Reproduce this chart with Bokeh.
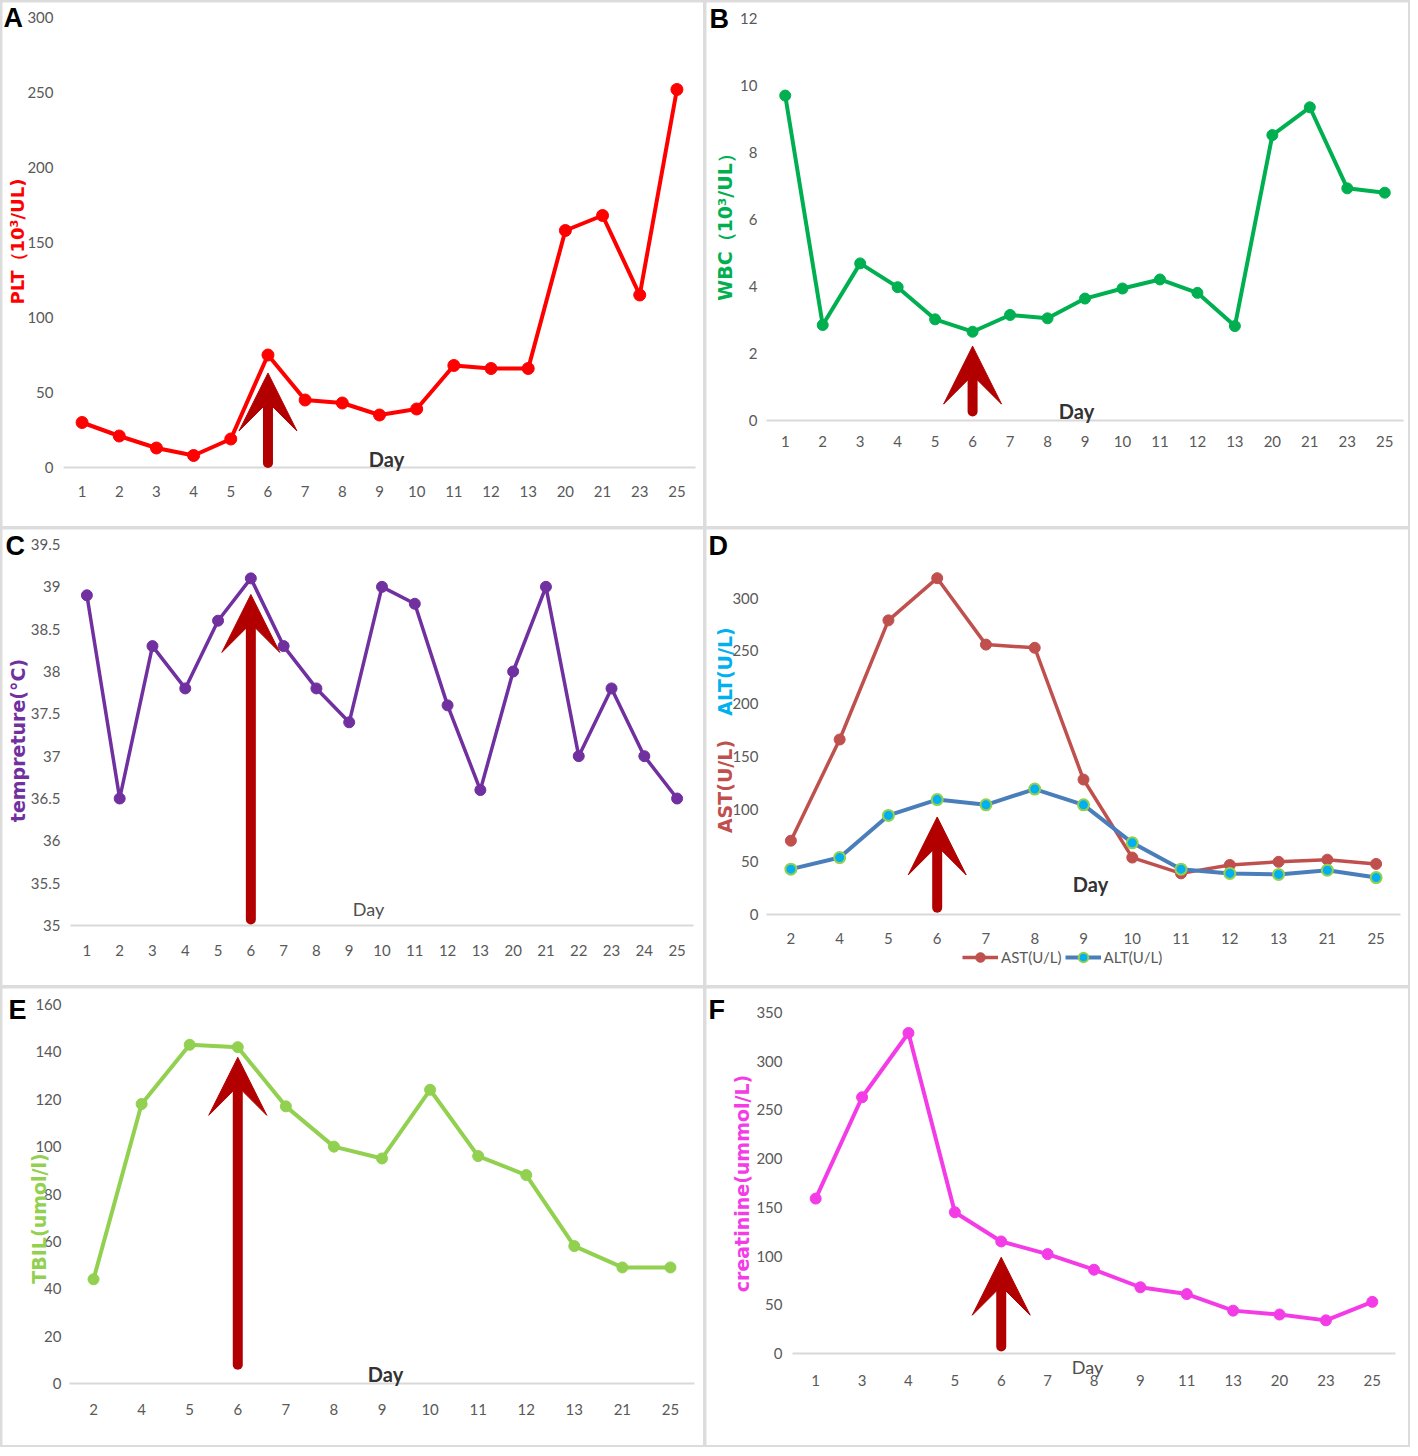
import math
from bokeh.plotting import figure
from bokeh.models import (Range1d, FixedTicker, Label, Arrow, VeeHead,
                          Legend, LegendItem, NumeralTickFormatter)
from bokeh.layouts import column, row
from bokeh.embed import file_html
from bokeh.resources import INLINE

# ---------------- data ----------------
a_days = ["1", "2", "3", "4", "5", "6", "7", "8", "9", "10", "11", "12", "13", "20", "21", "23", "25"]
a_plt = [30, 21, 13, 8, 19, 75, 45, 43, 35, 39, 68, 66, 66, 158, 168, 115, 252]
a_yticks = [0, 50, 100, 150, 200, 250, 300]

b_days = ["1", "2", "3", "4", "5", "6", "7", "8", "9", "10", "11", "12", "13", "20", "21", "23", "25"]
b_wbc = [9.7, 2.85, 4.69, 3.98, 3.02, 2.65, 3.15, 3.05, 3.64, 3.94, 4.21, 3.81, 2.82, 8.52, 9.35, 6.93, 6.80]
b_yticks = [0, 2, 4, 6, 8, 10, 12]

c_days = ["1", "2", "3", "4", "5", "6", "7", "8", "9", "10", "11", "12", "13", "20", "21", "22", "23", "24", "25"]
c_temp = [38.9, 36.5, 38.3, 37.8, 38.6, 39.1, 38.3, 37.8, 37.4, 39.0, 38.8, 37.6, 36.6, 38.0, 39.0, 37.0, 37.8, 37.0, 36.5]
c_yticks = [35, 35.5, 36, 36.5, 37, 37.5, 38, 38.5, 39, 39.5]

d_days = ["2", "4", "5", "6", "7", "8", "9", "10", "11", "12", "13", "21", "25"]
d_ast = [70, 166, 279, 319, 256, 253, 128, 54, 39, 47, 50, 52, 48]
d_alt = [43, 54, 94, 109, 104, 119, 104, 68, 43, 39, 38, 42, 35]
d_yticks = [0, 50, 100, 150, 200, 250, 300]

e_days = ["2", "4", "5", "6", "7", "8", "9", "10", "11", "12", "13", "21", "25"]
e_tbil = [44, 118, 143, 142, 117, 100, 95, 124, 96, 88, 58, 49, 49]
e_yticks = [0, 20, 40, 60, 80, 100, 120, 140, 160]

f_days = ["1", "3", "4", "5", "6", "7", "8", "9", "11", "13", "20", "23", "25"]
f_crea = [159, 263, 329, 145, 115, 102, 86, 68, 61, 44, 40, 34, 53]
f_yticks = [0, 50, 100, 150, 200, 250, 300, 350]

# ---------------- styles ----------------
TICK_FONT = "Lato"
LABEL_FONT = "DejaVu Sans"
TICK_COLOR = "#595959"
ARROW_COLOR = "#b20000"
GAP_COLOR = "#dcdcdc"


def make_panel(width, height, days, y0, y1, yticks, left, right, top, bottom, ystandoff=10, xstandoff=17):
    """Whole canvas is the plot frame; axes are pinned inside it."""
    n = len(days)
    cw = (width - left - right) / n
    k = (y1 - y0) / (height - top - bottom)
    xr = Range1d(-left / cw - 0.5, (width - left) / cw - 0.5)
    yr = Range1d(y0 - bottom * k, y1 + top * k)
    p = figure(width=width, height=height, x_range=xr, y_range=yr,
               output_backend="svg", toolbar_location=None, min_border=0,
               background_fill_color="white", border_fill_color="white")
    try:
        p.frame_align = False
    except Exception:
        pass
    p.outline_line_color = None
    p.xgrid.visible = False
    p.ygrid.visible = False
    # y axis pinned at the left edge of the category area
    p.yaxis.fixed_location = -0.5
    p.yaxis.ticker = FixedTicker(ticks=yticks)
    p.yaxis.axis_line_color = None
    p.yaxis.major_tick_line_color = None
    p.yaxis.minor_tick_line_color = None
    p.yaxis.major_tick_out = 0
    p.yaxis.major_tick_in = 0
    p.yaxis.major_label_text_font = TICK_FONT
    p.yaxis.major_label_text_font_size = "15px"
    p.yaxis.major_label_text_color = TICK_COLOR
    p.yaxis.major_label_standoff = ystandoff
    # x axis pinned at the bottom value, labelled with the day categories
    p.xaxis.fixed_location = y0
    p.xaxis.bounds = (-0.5, n - 0.5)
    p.xaxis.ticker = FixedTicker(ticks=list(range(n)))
    p.xaxis.major_label_overrides = {i: d for i, d in enumerate(days)}
    p.xaxis.axis_line_color = "#d9d9d9"
    p.xaxis.axis_line_width = 2
    p.xaxis.major_tick_line_color = None
    p.xaxis.minor_tick_line_color = None
    p.xaxis.major_tick_out = 0
    p.xaxis.major_tick_in = 0
    p.xaxis.major_label_text_font = TICK_FONT
    p.xaxis.major_label_text_font_size = "15px"
    p.xaxis.major_label_text_color = TICK_COLOR
    p.xaxis.major_label_standoff = xstandoff
    geom = dict(L=left, T=top, cw=cw, k=k, y1=y1, days=days, idx=list(range(n)))
    return p, geom


def to_data(g, px, py):
    return (px - g["L"]) / g["cw"] - 0.5, g["y1"] - (py - g["T"]) * g["k"]


def add_letter(p, g, letter, px, py):
    x, y = to_data(g, px, py)
    p.add_layout(Label(x=x, y=y, text=letter, text_font="Liberation Sans", text_font_style="bold",
                       text_font_size="27px", text_color="black",
                       text_align="left", text_baseline="middle"))


def add_ylabel(p, g, text, px, py, color, size="18px"):
    x, y = to_data(g, px, py)
    p.add_layout(Label(x=x, y=y, text=text, angle=math.pi / 2, text_font=LABEL_FONT,
                       text_font_style="bold", text_font_size=size, text_color=color,
                       text_align="center", text_baseline="middle"))


def add_day(p, g, px, py, bold=True):
    x, y = to_data(g, px, py)
    p.add_layout(Label(x=x, y=y, text="Day", text_font=TICK_FONT,
                       text_font_style="bold" if bold else "normal",
                       text_font_size="20px" if bold else "18px",
                       text_color="#333333" if bold else "#505050",
                       text_align="center", text_baseline="middle"))


def add_arrow(p, g, day, y_start, y_end):
    xi = g["days"].index(day)
    k = g["k"]
    # shaft (rounded bottom), ending under the arrow head
    p.add_layout(Arrow(end=None, x_start=xi, y_start=y_start, x_end=xi, y_end=y_end - 24 * k,
                       line_color=ARROW_COLOR, line_width=10, line_cap="round"))
    # head
    p.add_layout(Arrow(end=VeeHead(size=58, fill_color=ARROW_COLOR, line_color=ARROW_COLOR),
                       x_start=xi, y_start=y_end - 30 * k, x_end=xi, y_end=y_end,
                       line_alpha=0, line_width=1))


# ---------------- panel A ----------------
pA, gA = make_panel(701, 524, a_days, 0, 300, a_yticks, 61, 8, 15, 59, xstandoff=18)
cA = "#ff0000"
pA.line(gA["idx"], a_plt, line_width=4, color=cA)
pA.scatter(gA["idx"], a_plt, size=12, color=cA)
add_arrow(pA, gA, "6", 3, 63)
add_letter(pA, gA, "A", 1, 15.5)
add_ylabel(pA, gA, "PLT（10³/UL)", 15, 239, cA, size="18px")
add_day(pA, gA, 384, 456)

# ---------------- panel B ----------------
pB, gB = make_panel(702, 524, b_days, 0, 12, b_yticks, 60, 5, 16, 106, ystandoff=9, xstandoff=15)
cB = "#00b050"
pB.line(gB["idx"], b_wbc, line_width=4, color=cB)
pB.scatter(gB["idx"], b_wbc, size=11, color=cB)
add_arrow(pB, gB, "6", 0.27, 2.22)
add_letter(pB, gB, "B", 3, 16)
add_ylabel(pB, gB, "WBC（10³/UL）", 18, 220, cB, size="19px")
add_day(pB, gB, 370, 408)

# ---------------- panel C ----------------
pC, gC = make_panel(701, 456, c_days, 35, 39.5, c_yticks, 68, 10, 15, 60, xstandoff=19)
pC.yaxis.formatter = NumeralTickFormatter(format="0.[0]")
cC = "#7030a0"
pC.line(gC["idx"], c_temp, line_width=3.5, color=cC)
pC.scatter(gC["idx"], c_temp, size=11, color=cC)
add_arrow(pC, gC, "6", 35.07, 38.91)
add_letter(pC, gC, "C", 3, 16)
add_ylabel(pC, gC, "tempreture(°C)", 15, 211, cC, size="19px")
add_day(pC, gC, 366, 379, bold=False)

# ---------------- panel D ----------------
pD, gD = make_panel(702, 456, d_days, 0, 350, d_yticks, 60, 8, 16, 71, ystandoff=8, xstandoff=18)
cAST = "#c0504d"
cALT = "#4a7ebb"
r_ast_l = pD.line(gD["idx"], d_ast, line_width=3.5, color=cAST)
r_ast_s = pD.scatter(gD["idx"], d_ast, size=11, color=cAST)
r_alt_l = pD.line(gD["idx"], d_alt, line_width=4, color=cALT)
r_alt_s = pD.scatter(gD["idx"], d_alt, size=11, fill_color="#00b0f0", line_color="#92d050", line_width=2)
add_arrow(pD, gD, "6", 6.4, 92.5)
add_letter(pD, gD, "D", 2, 16)
add_ylabel(pD, gD, "ALT(U/L)", 18, 142, "#00b0f0", size="19px")
add_ylabel(pD, gD, "AST(U/L)", 18, 257, cAST, size="19px")
add_day(pD, gD, 384, 354)
legend = Legend(items=[LegendItem(label="AST(U/L)", renderers=[r_ast_l, r_ast_s]),
                       LegendItem(label="ALT(U/L)", renderers=[r_alt_l, r_alt_s])],
                orientation="horizontal", location=(256, 16),
                border_line_color=None, background_fill_alpha=0,
                label_text_font=TICK_FONT, label_text_font_size="15px",
                label_text_color=TICK_COLOR, glyph_width=36, glyph_height=24,
                spacing=3, padding=0, margin=0, label_standoff=3)
pD.add_layout(legend)

# ---------------- panel E ----------------
pE, gE = make_panel(701, 457, e_days, 0, 160, e_yticks, 67, 9, 16, 62, ystandoff=8, xstandoff=20)
cE = "#92d050"
pE.line(gE["idx"], e_tbil, line_width=4, color=cE)
pE.scatter(gE["idx"], e_tbil, size=11, color=cE)
add_arrow(pE, gE, "6", 7.9, 137.7)
add_letter(pE, gE, "E", 6, 21)
add_ylabel(pE, gE, "TBIL(umol/l)", 36, 230, cE, size="19px")
add_day(pE, gE, 383, 385)

# ---------------- panel F ----------------
pF, gF = make_panel(702, 457, f_days, 0, 350, f_yticks, 86, 13, 24, 92, xstandoff=21)
cF = "#f43ce6"
pF.line(gF["idx"], f_crea, line_width=4, color=cF)
pF.scatter(gF["idx"], f_crea, size=11, color=cF)
add_arrow(pF, gF, "6", 7.3, 98.8)
add_letter(pF, gF, "F", 2, 21.5)
add_ylabel(pF, gF, "creatinine(ummol/L)", 35, 195, cF, size="19px")
add_day(pF, gF, 381, 378, bold=False)

layout = column(row(pA, pB, spacing=3), row(pC, pD, spacing=3), row(pE, pF, spacing=3),
                spacing=3, styles={"background-color": GAP_COLOR, "padding": "2px"})

open("out.html", "w").write(file_html(layout, INLINE))
